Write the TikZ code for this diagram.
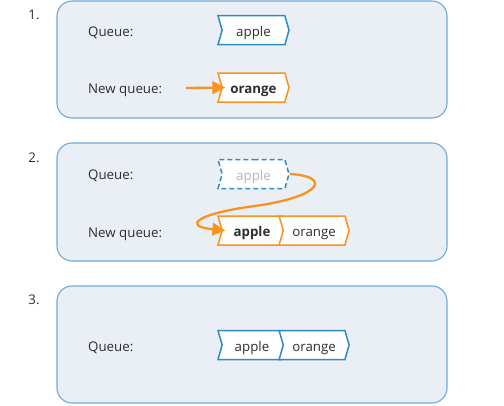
\documentclass[tikz,border=0pt]{standalone}
\usepackage{fontspec}
\setmainfont{Open Sans}
\usetikzlibrary{shapes.symbols,arrows.meta}
\definecolor{panelfill}{HTML}{EAEEF5}
\definecolor{panelline}{HTML}{6DAAD8}
\definecolor{qblue}{HTML}{2F8BC3}
\definecolor{qorange}{HTML}{F7931E}
\definecolor{txt}{HTML}{2E2E2E}
\definecolor{ghost}{HTML}{B5B5B5}
\tikzset{
  panel/.style={draw=panelline,fill=panelfill,line width=1.1pt,rounded corners=15pt},
  lbl/.style={anchor=base west,text=txt,font=\fontsize{13.3}{15}\selectfont,inner sep=0pt},
  num/.style={anchor=base,text=txt,font=\fontsize{13.3}{15}\selectfont,inner sep=0pt},
  item/.style={shape=signal,signal to=east,signal from=west,signal pointer angle=148,
    fill=white,line width=1.5pt,minimum height=29pt,minimum width=71pt,inner sep=0pt,
    text height=12pt,text depth=0pt,
    text=txt,font=\fontsize{13.3}{15}\selectfont},
  bitem/.style={item,draw=qblue},
  oitem/.style={item,draw=qorange},
  gitem/.style={item,draw=qblue,dashed,dash pattern=on 5pt off 3pt,text=ghost},
  oarrow/.style={draw=qorange,line width=2.3pt,-{Triangle[length=13pt,width=12.5pt]}},
}
\begin{document}
\begin{tikzpicture}[x=1pt,y=-1pt]
\useasboundingbox (0,0) rectangle (504,405);
% panel 1
\draw[panel] (57,1) rectangle (447,118);
\node[num] (n1) at (34,19) {1.};
\node[lbl] (q1) at (88,36.3) {Queue:};
\node[lbl] (nq1) at (88,93.8) {New queue:};
\node[bitem] (a1) at (253.5,30.2) {apple};
\node[oitem] (o1) at (253.5,87.5) {\textbf{orange}};
\coordinate (s1) at (186,88);
\draw[oarrow] (s1) -- ([xshift=4pt]o1.west);
% panel 2
\draw[panel] (57,143) rectangle (447,261);
\node[num] (n2) at (34,162) {2.};
\node[lbl] (q2) at (88,179.3) {Queue:};
\node[lbl] (nq2) at (88,237.3) {New queue:};
\node[gitem] (g2) at (253.5,174) {apple};
\node[oitem,minimum width=68pt] (a2) at (252,230.5) {\textbf{apple}};
\node[oitem,minimum width=70pt,anchor=west] (o2) at ([xshift=-4.3pt]a2.east) {orange};
\draw[oarrow] (g2.east) .. controls (330,176) and (325,196) .. (255,206)
  .. controls (200,213) and (180,226) .. ([xshift=4pt]a2.west);
% panel 3
\draw[panel] (57,286) rectangle (447,403);
\node[num] (n3) at (34,304) {3.};
\node[lbl] (q3) at (88,351.3) {Queue:};
\node[bitem,minimum width=68pt] (a3) at (252,345) {apple};
\node[bitem,minimum width=70pt,anchor=west] (o3) at ([xshift=-4.3pt]a3.east) {orange};
\end{tikzpicture}
\end{document}
